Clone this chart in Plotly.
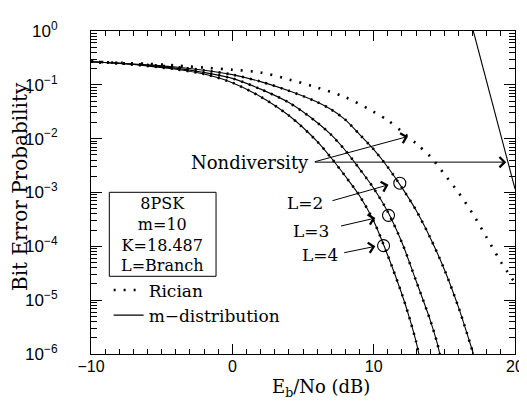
import plotly.graph_objects as go

# ---------------- data ----------------
# Rician, no diversity (dotted)
nd_x = [-10, -8, -6, -4, -2, 0, 2, 4, 6, 8, 10, 11, 12, 13, 14, 15, 16, 17, 18, 19, 20]
nd_rician = [0.2692, 0.2570, 0.2455, 0.2291, 0.2089, 0.1905, 0.1698, 0.1259, 0.0891, 0.0589,
             0.0316, 0.0219, 0.0135, 0.00813, 0.00468, 0.00219, 0.00100, 4.07e-4, 1.45e-4,
             5.13e-5, 2.09e-5]

# m-distribution, no diversity (solid)
nd_m_x = [17.05, 18.5, 20.0]
nd_m = [1.0, 0.036, 0.00117]

# L = 2 branches
l2_x = [-10, -8, -6, -4, -2, 0, 2, 4, 6, 7, 8, 9, 10, 11, 12, 13, 14, 15, 16, 17, 17.06]
l2_p = [0.2692, 0.2512, 0.2344, 0.2138, 0.1862, 0.1549, 0.1148, 0.0776, 0.0479, 0.0347,
        0.0224, 0.0120, 0.00631, 0.00295, 0.00123, 4.68e-4, 1.45e-4, 3.72e-5, 7.41e-6,
        1.12e-6, 1.0e-6]

# L = 3 branches
l3_x = [-10, -8, -6, -4, -2, 0, 2, 4, 6, 7, 8, 9, 10, 11, 12, 13, 14, 14.5, 14.68]
l3_p = [0.2692, 0.2512, 0.2291, 0.2042, 0.1698, 0.1318, 0.0832, 0.0468, 0.0200, 0.01175,
        0.00603, 0.00275, 0.00120, 4.37e-4, 1.175e-4, 2.29e-5, 4.27e-6, 1.58e-6, 1.0e-6]

# L = 4 branches
l4_x = [-10, -8, -6, -4, -2, 0, 2, 4, 6, 7, 8, 9, 10, 11, 12, 12.5, 13, 13.2]
l4_p = [0.2692, 0.2512, 0.2239, 0.1950, 0.1585, 0.1096, 0.0603, 0.0269, 0.00891, 0.00437,
        0.00200, 8.71e-4, 2.95e-4, 6.76e-5, 1.29e-5, 5.01e-6, 1.70e-6, 1.0e-6]

# circled points on the L curves
circle_x = [11.85, 11.05, 10.70]
circle_p = [1.49e-3, 3.76e-4, 1.03e-4]

x_ticks = [-10, 0, 10, 20]
x_ticktext = ["\u221210", "0", "10", "20"]
y_ticks = [1e-6, 1e-5, 1e-4, 1e-3, 1e-2, 1e-1, 1]
y_ticktext = ["10<sup>\u22126</sup>", "10<sup>\u22125</sup>", "10<sup>\u22124</sup>",
              "10<sup>\u22123</sup>", "10<sup>\u22122</sup>", "10<sup>\u22121</sup>",
              "10<sup>0</sup>"]
y_minor = [k * 10.0 ** e for e in range(-6, 0) for k in range(2, 10)]

box_lines = ["8PSK", "m=10", "K=18.487", "L=Branch"]

# ---------------- figure ----------------
SERIF = "DejaVu Serif"
SANS = "Liberation Sans"
BLACK = "black"

fig = go.Figure()

dot_nd = dict(color=BLACK, width=2.6, dash="2px,8px", shape="spline", smoothing=0.8)
dot_l = dict(color=BLACK, width=2.6, dash="2px,6px", shape="spline", smoothing=0.8)
solid = dict(color=BLACK, width=1.1, shape="spline", smoothing=0.8)

for xs, ps in [(l2_x, l2_p), (l3_x, l3_p), (l4_x, l4_p)]:
    fig.add_trace(go.Scatter(x=xs, y=ps, mode="lines", line=solid, showlegend=False,
                             hoverinfo="skip"))
    fig.add_trace(go.Scatter(x=xs, y=ps, mode="lines", line=dot_l, showlegend=False,
                             hoverinfo="skip"))

fig.add_trace(go.Scatter(x=nd_x, y=nd_rician, mode="lines", line=dot_nd, name="Rician"))
fig.add_trace(go.Scatter(x=nd_m_x, y=nd_m, mode="lines",
                         line=dict(color=BLACK, width=1.1), name="m\u2212distribution"))

fig.add_trace(go.Scatter(x=circle_x, y=circle_p, mode="markers", showlegend=False,
                         marker=dict(symbol="circle-open", size=12, color=BLACK,
                                     line=dict(width=1.1, color=BLACK))))

annotations = []


def arrow(tail_x, tail_ly, tip_x, tip_ly):
    annotations.append(dict(x=tip_x, y=tip_ly, ax=tail_x, ay=tail_ly, xref="x", yref="y",
                            axref="x", ayref="y", text="", showarrow=True, arrowhead=4,
                            arrowsize=2.0, arrowwidth=1, arrowcolor=BLACK, standoff=0,
                            startstandoff=0))


def label(x, ly, txt, size=18):
    annotations.append(dict(x=x, y=ly, xref="x", yref="y", text=txt, showarrow=False,
                            font=dict(family=SERIF, size=size, color=BLACK),
                            xanchor="center", yanchor="middle"))


label(1.23, -2.436, "Nondiversity")
arrow(5.73, -2.436, 12.43, -1.959)
arrow(5.73, -2.436, 19.38, -2.436)

label(5.11, -3.20, "L=2", 17)
arrow(6.98, -3.16, 11.05, -2.857)
label(5.59, -3.716, "L=3", 17)
arrow(7.58, -3.629, 10.12, -3.475)
label(6.20, -4.156, "L=4", 17)
arrow(7.81, -4.124, 10.12, -4.0)

# parameter box text (one multi-line text block)
annotations.append(dict(x=(156.2 - 83) / 433, y=(346 - 226.3) / 323, xref="paper",
                        yref="paper", text="<br>".join(box_lines), showarrow=False,
                        font=dict(family=SERIF, size=16, color=BLACK), align="center",
                        xanchor="center", yanchor="middle"))

# axis titles
annotations.append(dict(x=(317.5 - 83) / 433, y=(346 - 380) / 323, xref="paper", yref="paper",
                        text="E<sub>b</sub>/No (dB)", showarrow=False,
                        font=dict(family=SERIF, size=18, color=BLACK),
                        xanchor="center", yanchor="middle"))
annotations.append(dict(x=(10 - 83) / 433, y=(346 - 178.5) / 323, xref="paper", yref="paper",
                        text="Bit Error Probability", showarrow=False, textangle=-90,
                        font=dict(family=SERIF, size=20, color=BLACK),
                        xanchor="center", yanchor="middle"))

shapes = [dict(type="rect", xref="paper", yref="paper",
               x0=(101.7 - 83) / 433, x1=(210.7 - 83) / 433,
               y0=(346 - 268.3) / 323, y1=(346 - 184.3) / 323,
               line=dict(color=BLACK, width=1), fillcolor="rgba(0,0,0,0)")]

fig.update_layout(
    width=527, height=401,
    margin=dict(l=83, r=11, t=23, b=55, pad=0),
    paper_bgcolor="white", plot_bgcolor="white",
    annotations=annotations, shapes=shapes,
    legend=dict(x=(101 - 83) / 433, y=(346 - 295) / 323, xanchor="left", yanchor="middle",
                font=dict(family=SERIF, size=17, color=BLACK), bgcolor="rgba(0,0,0,0)",
                borderwidth=0, itemwidth=30, tracegroupgap=0),
    xaxis=dict(range=[-10, 20], showgrid=False, zeroline=False, showline=True,
               linecolor=BLACK, linewidth=1, mirror="allticks", ticks="inside",
               ticklen=10, tickwidth=1, tickcolor=BLACK, tickvals=x_ticks,
               ticktext=x_ticktext, ticklabelstandoff=-2,
               tickfont=dict(family=SANS, size=16, color=BLACK),
               minor=dict(dtick=1, ticks="inside", ticklen=5, tickwidth=1,
                          tickcolor=BLACK, showgrid=False)),
    yaxis=dict(type="log", range=[-6, 0], showgrid=False, zeroline=False, showline=True,
               linecolor=BLACK, linewidth=1, mirror="allticks", ticks="inside",
               ticklen=11, tickwidth=1, tickcolor=BLACK, tickvals=y_ticks,
               ticktext=y_ticktext, ticklabelstandoff=29,
               tickfont=dict(family=SANS, size=17, color=BLACK),
               minor=dict(tickvals=y_minor, ticks="inside", ticklen=6, tickwidth=1,
                          tickcolor=BLACK, showgrid=False)),
)

fig.write_html("out.html")
